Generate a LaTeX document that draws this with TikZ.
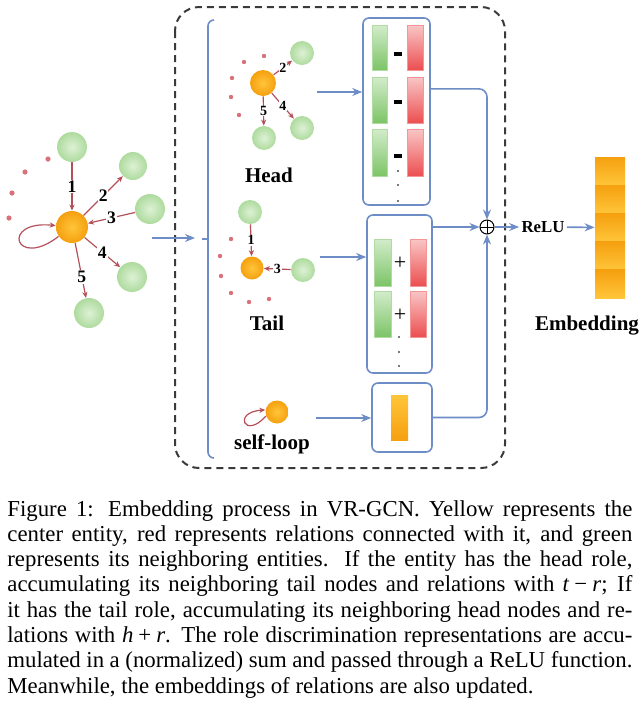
\documentclass[tikz,border=0pt]{standalone}
\usepackage{fontspec}
\setmainfont{Liberation Serif}
\definecolor{VRblue}{HTML}{6E8CC6}
\definecolor{VRrel}{HTML}{B5505A}
\definecolor{VRdot}{HTML}{D9707A}
\definecolor{VRgreen}{HTML}{AEDB9E}
\definecolor{VRgreenL}{HTML}{DDF1D5}
\definecolor{VRorange}{HTML}{F5A00F}
\definecolor{VRorangeL}{HTML}{FFC53A}
\definecolor{VRbarG}{HTML}{7CC466}
\definecolor{VRbarGL}{HTML}{D3ECCB}
\definecolor{VRbarR}{HTML}{EC4E50}
\definecolor{VRbarRL}{HTML}{F9C6C6}
\definecolor{VRdash}{HTML}{3A3A3A}
\usetikzlibrary{arrows.meta, calc}
\tikzset{
  gent/.style={circle, inner sep=0pt, minimum size=#1, shade, inner color=VRgreenL, outer color=VRgreen},
  oent/.style={circle, inner sep=0pt, minimum size=#1, shade, inner color=VRorangeL, outer color=VRorange},
  rel/.style={VRrel, line width=0.6pt, -{Stealth[length=3pt, width=2.6pt]}},
  numlab/.style={fill=white, text=black, inner sep=0.4pt, font=\bfseries\fontsize{#1}{#1}\selectfont},
  vrbox/.style={draw=VRblue, line width=0.8pt, rounded corners=3pt, inner sep=0pt},
  flow/.style={VRblue, line width=0.8pt, -{Stealth[length=5pt, width=4pt]}},
  gbar/.style={top color=VRbarGL, bottom color=VRbarG, draw=VRbarG!60, line width=0.2pt},
  rbar/.style={top color=VRbarRL, bottom color=VRbarR, draw=VRbarR!60, line width=0.2pt},
  ebar/.style={top color=VRorange, bottom color=VRorangeL},
  role/.style={font=\bfseries\fontsize{10.5}{12}\selectfont, inner sep=0pt},
}

\begin{document}
\begin{tikzpicture}[x=0.5pt, y=-0.5pt]
  \useasboundingbox (0,0) rectangle (640,703);
  % Dashed frame
  \draw[VRdash, line width=1pt, dash pattern=on 3.5pt off 2.5pt, rounded corners=12pt]
     (175,7) rectangle (505,468);

  % Input graph
  \node[oent=16pt] (c0) at (72,227) {};
  \node[gent=15pt] (g1) at (72,147) {};
  \node[gent=14pt] (g2) at (133,166) {};
  \node[gent=15pt] (g3) at (150,209) {};
  \node[gent=15pt] (g4) at (132,277) {};
  \node[gent=15pt] (g5) at (89,313) {};
  \draw[rel] (g1) -- node[numlab=8.8] {1} (c0);
  \draw[rel] (c0) -- node[numlab=8.8] {2} (g2);
  \draw[rel] (g3) -- node[numlab=8.8] {3} (c0);
  \draw[rel] (c0) -- node[numlab=8.8] {4} (g4);
  \draw[rel] (c0) -- node[numlab=8.8, pos=0.62] {5} (g5);
  \draw[rel] (c0.215) .. controls (15,270) and (0,220) .. (c0.175);
  \fill[VRdot] (48,159) circle (1.3pt) (25,172) circle (1.3pt)
               (12,193) circle (1.3pt) (9,218) circle (1.3pt);

  % Into the roles
  \coordinate (gin) at (152,238);
  \coordinate (gout) at (195,238);
  \draw[flow] (gin) -- (gout);
  \draw[VRblue, line width=0.8pt, rounded corners=3pt]
     (214,20) -- (208,20) -- (208,458) -- (214,458);
  \draw[VRblue, line width=0.8pt] (208,239) -- (202,239);

  % Head
  \node[oent=13pt] (hc) at (263,83) {};
  \node[gent=12pt] (hg2) at (302,53) {};
  \node[gent=12pt] (hg4) at (302,128) {};
  \node[gent=12pt] (hg5) at (264,138) {};
  \draw[rel] (hc) -- node[numlab=7] {2} (hg2);
  \draw[rel] (hc) -- node[numlab=7] {4} (hg4);
  \draw[rel] (hc) -- node[numlab=7] {5} (hg5);
  \fill[VRdot] (264,56) circle (1.1pt) (244,62) circle (1.1pt) (232,78) circle (1.1pt)
               (231,97) circle (1.1pt) (239,115) circle (1.1pt);
  \node[role, anchor=base] at (269,182) {Head};

  % Tail
  \node[oent=11.5pt] (tc) at (252,268) {};
  \node[gent=12pt] (tg1) at (250,212) {};
  \node[gent=12pt] (tg3) at (303,270) {};
  \draw[rel] (tg1) -- node[numlab=7] {1} (tc);
  \draw[rel] (tg3) -- node[numlab=7] {3} (tc);
  \fill[VRdot] (231,239) circle (1.1pt) (220,256) circle (1.1pt) (221,276) circle (1.1pt)
               (231,293) circle (1.1pt) (249,302) circle (1.1pt) (269,299) circle (1.1pt);
  \node[role, anchor=base] at (267,330) {Tail};

  % Self-loop
  \node[oent=11.5pt] (sc) at (277,412) {};
  \draw[rel] (sc.200) .. controls (245,440) and (232,412) .. (sc.170);
  \node[role, anchor=base] at (272,449) {self-loop};

  % Aggregation boxes
  \node[vrbox, minimum width=33.5pt, minimum height=93.5pt] (hbox) at (396.5,111.5) {};
  \node[vrbox, minimum width=32.5pt, minimum height=79pt] (tbox) at (399.5,294) {};
  \node[vrbox, minimum width=30pt, minimum height=34.5pt] (slbox) at (402,417.5) {};
  \coordinate (hd) at (317,92);
  \coordinate (td) at (320,257);
  \coordinate (sd) at (316,418);
  \draw[flow] (hd) -- (hd -| hbox.west);
  \draw[flow] (td) -- (td -| tbox.west);
  \draw[flow] (sd) -- (sd -| slbox.west);

  % t - r
  \shade[gbar] (372,25) rectangle (387,70);
  \shade[rbar] (407,25) rectangle (423,70);
  \shade[gbar] (372,77) rectangle (387,123);
  \shade[rbar] (407,77) rectangle (423,123);
  \shade[gbar] (372,129) rectangle (387,176);
  \shade[rbar] (407,129) rectangle (423,176);
  \fill (394,52) rectangle (402,56);
  \fill (394,100) rectangle (402,104);
  \fill (394,154) rectangle (402,158);
  \fill[black!70] (398,171) circle (0.6pt) (398,185) circle (0.6pt) (398,201) circle (0.6pt);

  % h + r
  \shade[gbar] (374,239) rectangle (391,286);
  \shade[rbar] (410,239) rectangle (426,286);
  \shade[gbar] (374,291) rectangle (391,337);
  \shade[rbar] (410,291) rectangle (426,337);
  \node[font=\fontsize{11}{11}\selectfont, inner sep=0pt] at (400,263) {+};
  \node[font=\fontsize{11}{11}\selectfont, inner sep=0pt] at (400,315) {+};
  \fill[black!70] (399,337) circle (0.6pt) (399,352) circle (0.6pt) (399,366) circle (0.6pt);

  % Self-loop vector
  \shade[top color=VRorangeL, bottom color=VRorange] (391,395) rectangle (408,440);

  % Sum and ReLU
  \node[draw, circle, minimum size=7pt, inner sep=0pt, line width=0.5pt,
        path picture={\draw[line width=0.5pt] (path picture bounding box.north) -- (path picture bounding box.south)
                      (path picture bounding box.west) -- (path picture bounding box.east);}] (sum) at (487,227) {};
  \draw[flow, rounded corners=4pt] ($(hbox.north east)!0.38!(hbox.south east)$) -| (sum);
  \draw[flow] (tbox.east |- sum) -- (sum);
  \draw[flow, rounded corners=4pt] (slbox.east) -| (sum);
  \node[font=\bfseries\fontsize{8.4}{9}\selectfont, inner sep=1pt] (relu) at (543,227) {ReLU};
  \node[minimum width=15pt, minimum height=70.5pt, inner sep=0pt] (emb) at (610,227.5) {};
  \draw[flow] (sum) -- (relu);
  \draw[flow] (relu) -- (emb);

  % Embedding
  \shade[ebar] (595,157) rectangle (625,185.2);
  \shade[ebar] (595,185.2) rectangle (625,213.4);
  \shade[ebar] (595,213.4) rectangle (625,241.6);
  \shade[ebar] (595,241.6) rectangle (625,269.8);
  \shade[ebar] (595,269.8) rectangle (625,298);
  \node[role, anchor=base] at (587,330) {Embedding};

  % Caption
  \node[anchor=base west, inner sep=0pt, text width=312.5pt, align=justify,
        font=\fontsize{11.4}{12.65}\selectfont] (cap) at (7,516)
   {Figure 1: Embedding process in VR-GCN. Yellow represents the\linebreak
    center entity, red represents relations connected with it, and green\linebreak
    represents its neighboring entities. If the entity has the head role,\linebreak
    accumulating its neighboring tail nodes and relations with \textit{t}\kern.22em−\kern.22em\textit{r}; If\linebreak
    it has the tail role, accumulating its neighboring head nodes and re-\linebreak
    lations with \textit{h}\kern.22em+\kern.22em\textit{r}. The role discrimination representations are accu-\linebreak
    mulated in a (normalized) sum and passed through a ReLU function.\linebreak
    Meanwhile, the embeddings of relations are also updated.};
\end{tikzpicture}
\end{document}
